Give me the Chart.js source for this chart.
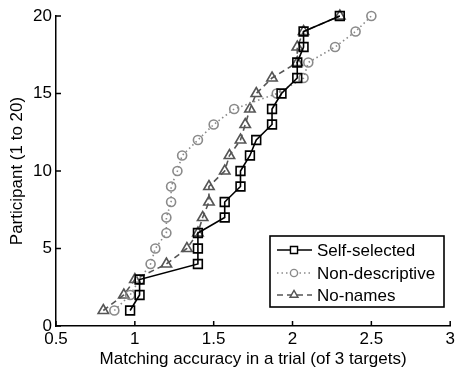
<!DOCTYPE html>
<html><head><meta charset="utf-8">
<style>html,body{margin:0;padding:0;background:#fff}#wrap{width:458px;height:374px;position:relative}</style>
<script src="https://cdn.jsdelivr.net/npm/chart.js@4/dist/chart.umd.min.js"></script>
</head><body><div id="wrap"><canvas id="c" width="458" height="374"></canvas></div>
<script>
const participants = [1,2,3,4,5,6,7,8,9,10,11,12,13,14,15,16,17,18,19,20];
const selfSelected = [0.97,1.03,1.03,1.40,1.40,1.40,1.57,1.57,1.67,1.67,1.73,1.77,1.87,1.87,1.93,2.03,2.03,2.07,2.07,2.30];
const nonDescriptive = [0.87,0.97,1.03,1.10,1.13,1.20,1.20,1.23,1.23,1.27,1.30,1.40,1.50,1.63,1.90,2.07,2.10,2.27,2.40,2.50];
const noNames = [0.80,0.93,1.00,1.20,1.33,1.40,1.43,1.47,1.47,1.57,1.60,1.67,1.70,1.73,1.77,1.87,2.03,2.03,2.07,2.30];
const seriesNames = ['Self-selected','Non-descriptive','No-names'];
const xTicks = [0.5,1,1.5,2,2.5,3];
const yTicks = [0,5,10,15,20];
const xTitle = 'Matching accuracy in a trial (of 3 targets)';
const yTitle = 'Participant (1 to 20)';

const FONT = 'Liberation Sans, Arial, Helvetica, sans-serif';
const toPts = arr => arr.map((v,i) => ({x: v, y: participants[i]}));

const innerTicks = {
  id: 'innerTicks',
  afterDatasetsDraw(chart) {
    const ctx = chart.ctx, xs = chart.scales.x, ys = chart.scales.y;
    const a = chart.chartArea;
    ctx.save();
    ctx.strokeStyle = '#000';
    ctx.lineWidth = 1.5;
    ctx.beginPath();
    xTicks.forEach(t => { const p = xs.getPixelForValue(t); ctx.moveTo(p, a.bottom); ctx.lineTo(p, a.bottom - 5); });
    yTicks.forEach(t => { const p = ys.getPixelForValue(t); ctx.moveTo(a.left, p); ctx.lineTo(a.left + 5, p); });
    ctx.stroke();
    ctx.restore();
  }
};

const legendMarkerRadius = [5, 3.6, 4.6];
const boxLegend = {
  id: 'boxLegend',
  afterDraw(chart) {
    const ctx = chart.ctx;
    const bx = 270, by = 236, bw = 174, bh = 71;
    ctx.save();
    ctx.fillStyle = '#fff';
    ctx.fillRect(bx, by, bw, bh);
    ctx.strokeStyle = '#000';
    ctx.lineWidth = 1.6;
    ctx.strokeRect(bx, by, bw, bh);
    const rows = [250, 273, 295];
    chart.data.datasets.forEach((ds, i) => {
      const y = rows[i];
      ctx.save();
      ctx.strokeStyle = ds.borderColor;
      ctx.lineWidth = ds.borderWidth;
      ctx.setLineDash(ds.borderDash || []);
      ctx.beginPath(); ctx.moveTo(277, y); ctx.lineTo(312, y); ctx.stroke();
      ctx.setLineDash([]);
      ctx.fillStyle = '#fff';
      ctx.strokeStyle = ds.pointBorderColor;
      ctx.lineWidth = 1.4;
      Chart.helpers.drawPoint(ctx, {
        pointStyle: ds.pointStyle, radius: legendMarkerRadius[i], borderWidth: 1.4, rotation: 0
      }, 294, y);
      ctx.restore();
      ctx.fillStyle = '#000';
      ctx.font = '17px ' + FONT;
      ctx.textBaseline = 'middle';
      ctx.textAlign = 'left';
      ctx.fillText(ds.label, 317, y + 1);
    });
    ctx.restore();
  }
};

new Chart(document.getElementById('c'), {
  type: 'scatter',
  data: {
    datasets: [
      { label: seriesNames[0], data: toPts(selfSelected), showLine: true, clip: false,
        borderColor: '#000', borderWidth: 1.6, pointStyle: 'rect', pointRadius: 6.2,
        pointBorderColor: '#000', pointBackgroundColor: 'rgba(0,0,0,0)', pointBorderWidth: 1.6 },
      { label: seriesNames[1], data: toPts(nonDescriptive), showLine: true, clip: false,
        borderColor: '#8a8a8a', borderWidth: 1.6, borderDash: [1.5, 3], pointStyle: 'circle', pointRadius: 4.5,
        pointBorderColor: '#8a8a8a', pointBackgroundColor: 'rgba(0,0,0,0)', pointBorderWidth: 1.6 },
      { label: seriesNames[2], data: toPts(noNames), showLine: true, clip: false,
        borderColor: '#555', borderWidth: 1.6, borderDash: [6, 4], pointStyle: 'triangle', pointRadius: 6,
        pointBorderColor: '#555', pointBackgroundColor: 'rgba(0,0,0,0)', pointBorderWidth: 1.6 }
    ]
  },
  options: {
    responsive: false, animation: false, devicePixelRatio: 1,
    layout: { padding: { top: 16, right: 0, left: 0, bottom: 0 } },
    plugins: { legend: { display: false }, tooltip: { enabled: false } },
    scales: {
      x: {
        type: 'linear', min: 0.5, max: 3,
        afterBuildTicks: s => { s.ticks = xTicks.map(v => ({value: v})); },
        afterFit: s => { s.height = 48; },
        ticks: { color: '#000', font: { family: FONT, size: 17 }, padding: 3, maxRotation: 0,
                 callback: v => String(v) },
        grid: { display: false, drawTicks: false },
        border: { display: true, color: '#000', width: 1.5 },
        title: { display: true, text: xTitle, color: '#000', font: { family: FONT, size: 17 }, padding: { top: 0, bottom: 4 } }
      },
      y: {
        type: 'linear', min: 0, max: 20,
        afterBuildTicks: s => { s.ticks = yTicks.map(v => ({value: v})); },
        afterFit: s => { s.width = 56; },
        ticks: { color: '#000', font: { family: FONT, size: 17 }, padding: 4, callback: v => String(v) },
        grid: { display: false, drawTicks: false },
        border: { display: true, color: '#000', width: 1.5 },
        title: { display: true, text: yTitle, color: '#000', font: { family: FONT, size: 17 }, padding: { top: 7, bottom: 0 } }
      }
    }
  },
  plugins: [innerTicks, boxLegend]
});
</script>
</body></html>
